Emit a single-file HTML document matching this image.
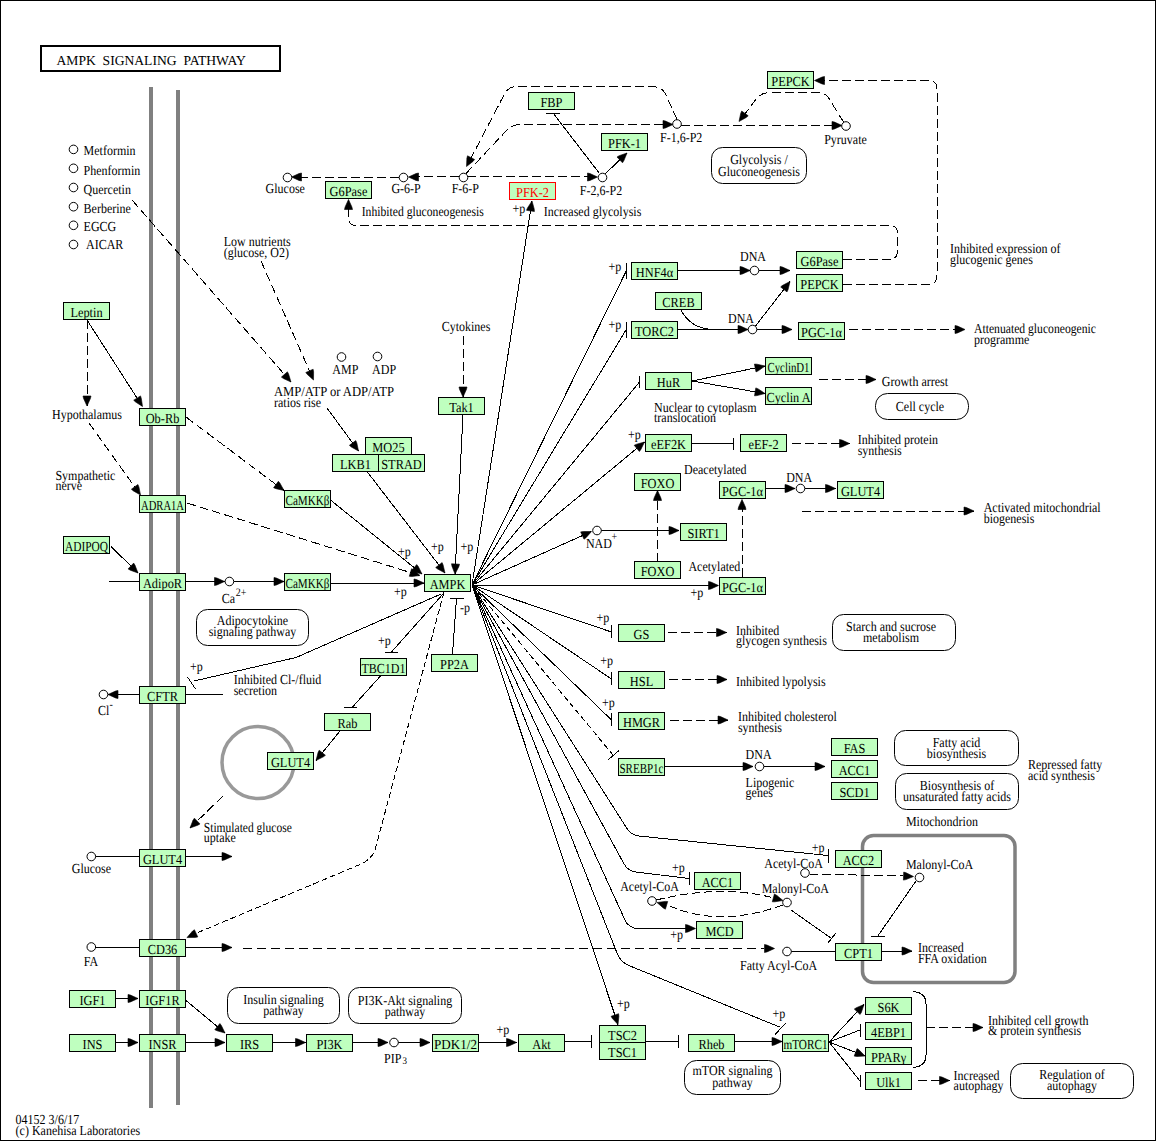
<!DOCTYPE html>
<html><head><meta charset="utf-8"><style>
html,body{margin:0;padding:0;background:#fff;width:1156px;height:1141px;overflow:hidden}
svg{display:block}
text{font-family:"Liberation Serif", serif;text-rendering:geometricPrecision}
</style></head><body>
<svg width="1156" height="1141" viewBox="0 0 1156 1141">
<rect x="0.5" y="0.5" width="1155" height="1140" fill="#fff" stroke="#000" stroke-width="1"/>
<line x1="151" y1="87" x2="151" y2="1108" stroke="#808080" stroke-width="4"/>
<line x1="178" y1="90" x2="178" y2="1105" stroke="#808080" stroke-width="4"/>
<rect x="862.5" y="835.5" width="152.5" height="147" rx="11" ry="11" fill="none" stroke="#808080" stroke-width="3.5"/>
<circle cx="258" cy="762.5" r="36" fill="none" stroke="#999999" stroke-width="3.5"/>
<path d="M399,177.5 L300,177.5" fill="none" stroke="#000" stroke-width="1" shape-rendering="crispEdges" stroke-dasharray="9,4"/>
<path d="M291.5,177.0 L299.0,173.6 L301.5,173.0 L301.5,181.0 L299.0,180.4 Z" fill="#000" stroke="#000" stroke-width="0.6"/>
<path d="M459,176.5 L416,176.5" fill="none" stroke="#000" stroke-width="1" shape-rendering="crispEdges" stroke-dasharray="9,4"/>
<path d="M408.5,177.0 L416.0,173.6 L418.5,173.0 L418.5,181.0 L416.0,180.4 Z" fill="#000" stroke="#000" stroke-width="0.6"/>
<path d="M467,176.5 L588,176.5" fill="none" stroke="#000" stroke-width="1" shape-rendering="crispEdges" stroke-dasharray="9,4"/>
<path d="M597.5,177.0 L590.0,180.4 L587.5,181.0 L587.5,173.0 L590.0,173.6 Z" fill="#000" stroke="#000" stroke-width="0.6"/>
<path d="M605,174 L627,153" fill="none" stroke="#000" stroke-width="1" shape-rendering="crispEdges"/>
<path d="M627.0,153.0 L623.9,160.6 L622.5,162.8 L617.0,157.0 L619.2,155.7 Z" fill="#000" stroke="#000" stroke-width="0.6"/>
<path d="M553,113 L599.5,173.5" fill="none" stroke="#000" stroke-width="1" shape-rendering="crispEdges"/>
<path d="M546,113.5 L560,113.5" stroke="#000" stroke-width="1" shape-rendering="crispEdges"/>
<path d="M466,173.5 L508,129 Q512,124.5 521,124.5 L665,124.5" fill="none" stroke="#000" stroke-width="1" shape-rendering="crispEdges" stroke-dasharray="9,4"/>
<path d="M673.0,124.5 L665.5,127.9 L663.0,128.5 L663.0,120.5 L665.5,121.1 Z" fill="#000" stroke="#000" stroke-width="0.6"/>
<path d="M677,119.5 L665,93 Q661,86.5 652,86.5 L517,86.5 Q509,86.5 505,93 L470,160" fill="none" stroke="#000" stroke-width="1" shape-rendering="crispEdges" stroke-dasharray="9,4"/>
<path d="M466.5,166.5 L466.9,158.3 L467.5,155.8 L474.6,159.5 L473.0,161.4 Z" fill="#000" stroke="#000" stroke-width="0.6"/>
<path d="M681,125.5 L832,125.5" fill="none" stroke="#000" stroke-width="1" shape-rendering="crispEdges" stroke-dasharray="9,4"/>
<path d="M842.0,125.5 L834.5,128.9 L832.0,129.5 L832.0,121.5 L834.5,122.1 Z" fill="#000" stroke="#000" stroke-width="0.6"/>
<path d="M843.5,122 L828,97 Q824,92.5 816,92.5 L770,92.5 Q762,92.5 757,98 L745,114" fill="none" stroke="#000" stroke-width="1" shape-rendering="crispEdges" stroke-dasharray="9,4"/>
<path d="M739.0,121.5 L740.7,113.4 L741.7,111.1 L748.2,115.8 L746.2,117.5 Z" fill="#000" stroke="#000" stroke-width="0.6"/>
<path d="M843,259.5 L889,259.5 Q897.5,259.5 897.5,251 L897.5,233 Q897.5,225.5 889,225.5 L356,225.5 Q348.5,225.5 348.5,217 L348.5,208" fill="none" stroke="#000" stroke-width="1" shape-rendering="crispEdges" stroke-dasharray="9,4"/>
<path d="M348.5,199.5 L351.9,207.0 L352.5,209.5 L344.5,209.5 L345.1,207.0 Z" fill="#000" stroke="#000" stroke-width="0.6"/>
<path d="M843,284.5 L928,284.5 Q937,284.5 937,275 L937,89 Q937,80.5 928,80.5 L824,80.5" fill="none" stroke="#000" stroke-width="1" shape-rendering="crispEdges" stroke-dasharray="9,4"/>
<path d="M814.5,80.5 L822.0,77.1 L824.5,76.5 L824.5,84.5 L822.0,83.9 Z" fill="#000" stroke="#000" stroke-width="0.6"/>
<path d="M261,261 L313.5,380" fill="none" stroke="#000" stroke-width="1" shape-rendering="crispEdges" stroke-dasharray="9,4"/>
<path d="M313.5,380.0 L307.4,374.5 L305.8,372.5 L313.1,369.2 L313.6,371.8 Z" fill="#000" stroke="#000" stroke-width="0.6"/>
<path d="M132,200 L291,382" fill="none" stroke="#000" stroke-width="1" shape-rendering="crispEdges" stroke-dasharray="9,4"/>
<path d="M291.0,382.0 L283.5,378.6 L281.4,377.1 L287.4,371.8 L288.6,374.1 Z" fill="#000" stroke="#000" stroke-width="0.6"/>
<path d="M327,408 L358.5,451" fill="none" stroke="#000" stroke-width="1" shape-rendering="crispEdges"/>
<path d="M358.5,451.0 L351.3,447.0 L349.4,445.3 L355.8,440.6 L356.8,442.9 Z" fill="#000" stroke="#000" stroke-width="0.6"/>
<path d="M463,336 L463,397" fill="none" stroke="#000" stroke-width="1" shape-rendering="crispEdges" stroke-dasharray="9,4"/>
<path d="M463.0,397.0 L459.6,389.5 L459.0,387.0 L467.0,387.0 L466.4,389.5 Z" fill="#000" stroke="#000" stroke-width="0.6"/>
<path d="M463,414.5 L455,574" fill="none" stroke="#000" stroke-width="1" shape-rendering="crispEdges"/>
<path d="M455.0,574.0 L452.0,566.3 L451.5,563.8 L459.5,564.2 L458.8,566.7 Z" fill="#000" stroke="#000" stroke-width="0.6"/>
<path d="M367,471.5 L445,573" fill="none" stroke="#000" stroke-width="1" shape-rendering="crispEdges"/>
<path d="M445.0,573.0 L437.7,569.1 L435.7,567.5 L442.1,562.6 L443.1,565.0 Z" fill="#000" stroke="#000" stroke-width="0.6"/>
<path d="M87,320 L87,406" fill="none" stroke="#000" stroke-width="1" shape-rendering="crispEdges" stroke-dasharray="9,4"/>
<path d="M87.0,406.0 L83.6,398.5 L83.0,396.0 L91.0,396.0 L90.4,398.5 Z" fill="#000" stroke="#000" stroke-width="0.6"/>
<path d="M87,320 L142.5,406.5" fill="none" stroke="#000" stroke-width="1" shape-rendering="crispEdges"/>
<path d="M142.5,406.5 L135.6,402.0 L133.7,400.2 L140.5,395.9 L141.3,398.4 Z" fill="#000" stroke="#000" stroke-width="0.6"/>
<path d="M89,423 L140.5,495" fill="none" stroke="#000" stroke-width="1" shape-rendering="crispEdges" stroke-dasharray="9,4"/>
<path d="M140.5,495.0 L133.4,490.9 L131.4,489.2 L137.9,484.5 L138.9,486.9 Z" fill="#000" stroke="#000" stroke-width="0.6"/>
<path d="M186,417 L284,490.5" fill="none" stroke="#000" stroke-width="1" shape-rendering="crispEdges" stroke-dasharray="9,4"/>
<path d="M284.0,490.5 L276.0,488.7 L273.6,487.7 L278.4,481.3 L280.0,483.3 Z" fill="#000" stroke="#000" stroke-width="0.6"/>
<path d="M187,503 L420,575.5" fill="none" stroke="#000" stroke-width="1" shape-rendering="crispEdges" stroke-dasharray="9,4"/>
<path d="M420.0,575.5 L411.8,576.5 L409.3,576.3 L411.6,568.7 L413.8,570.0 Z" fill="#000" stroke="#000" stroke-width="0.6"/>
<path d="M330.5,500 L422,574" fill="none" stroke="#000" stroke-width="1" shape-rendering="crispEdges"/>
<path d="M422.0,574.0 L414.0,571.9 L411.7,570.8 L416.7,564.6 L418.3,566.6 Z" fill="#000" stroke="#000" stroke-width="0.6"/>
<path d="M111,546.5 L138,573" fill="none" stroke="#000" stroke-width="1" shape-rendering="crispEdges"/>
<path d="M138.0,573.0 L130.3,570.2 L128.1,568.9 L133.7,563.1 L135.0,565.3 Z" fill="#000" stroke="#000" stroke-width="0.6"/>
<path d="M108.5,581.5 L139,581.5" fill="none" stroke="#000" stroke-width="1" shape-rendering="crispEdges"/>
<path d="M186,581.5 L224.5,581.5" fill="none" stroke="#000" stroke-width="1" shape-rendering="crispEdges"/>
<path d="M224.5,581.5 L217.0,584.9 L214.5,585.5 L214.5,577.5 L217.0,578.1 Z" fill="#000" stroke="#000" stroke-width="0.6"/>
<path d="M233.5,581.5 L284,581.5" fill="none" stroke="#000" stroke-width="1" shape-rendering="crispEdges"/>
<path d="M284.0,581.5 L276.5,584.9 L274.0,585.5 L274.0,577.5 L276.5,578.1 Z" fill="#000" stroke="#000" stroke-width="0.6"/>
<path d="M330.5,583 L424,583" fill="none" stroke="#000" stroke-width="1" shape-rendering="crispEdges"/>
<path d="M424.0,583.0 L416.5,586.4 L414.0,587.0 L414.0,579.0 L416.5,579.6 Z" fill="#000" stroke="#000" stroke-width="0.6"/>
<path d="M472,585 L532,201" fill="none" stroke="#000" stroke-width="1" shape-rendering="crispEdges"/>
<path d="M532.0,201.0 L534.2,208.9 L534.4,211.5 L526.5,210.3 L527.5,207.9 Z" fill="#000" stroke="#000" stroke-width="0.6"/>
<path d="M472,585 L626,271.5" fill="none" stroke="#000" stroke-width="1" shape-rendering="crispEdges"/>
<path d="M626,263 L626,279" stroke="#000" stroke-width="1" shape-rendering="crispEdges"/>
<path d="M472,585 L626,330" fill="none" stroke="#000" stroke-width="1" shape-rendering="crispEdges"/>
<path d="M626,322 L626,338" stroke="#000" stroke-width="1" shape-rendering="crispEdges"/>
<path d="M472,585 L639.5,382" fill="none" stroke="#000" stroke-width="1" shape-rendering="crispEdges"/>
<path d="M639.5,376 L639.5,388" stroke="#000" stroke-width="1" shape-rendering="crispEdges"/>
<path d="M472,585 L644.5,442" fill="none" stroke="#000" stroke-width="1" shape-rendering="crispEdges"/>
<path d="M644.5,442.0 L640.9,449.4 L639.4,451.5 L634.2,445.3 L636.6,444.2 Z" fill="#000" stroke="#000" stroke-width="0.6"/>
<path d="M472,585 L591.5,531.5" fill="none" stroke="#000" stroke-width="1" shape-rendering="crispEdges"/>
<path d="M591.5,531.5 L586.0,537.7 L584.0,539.2 L580.7,531.9 L583.3,531.5 Z" fill="#000" stroke="#000" stroke-width="0.6"/>
<path d="M601,530.5 L679,530.5" fill="none" stroke="#000" stroke-width="1" shape-rendering="crispEdges"/>
<path d="M679.0,530.5 L671.5,533.9 L669.0,534.5 L669.0,526.5 L671.5,527.1 Z" fill="#000" stroke="#000" stroke-width="0.6"/>
<path d="M472,585 L718.5,585.5" fill="none" stroke="#000" stroke-width="1" shape-rendering="crispEdges"/>
<path d="M718.5,585.5 L711.0,588.9 L708.5,589.5 L708.5,581.5 L711.0,582.1 Z" fill="#000" stroke="#000" stroke-width="0.6"/>
<path d="M472,585 L611.5,632" fill="none" stroke="#000" stroke-width="1" shape-rendering="crispEdges"/>
<path d="M611.5,625 L611.5,638" stroke="#000" stroke-width="1" shape-rendering="crispEdges"/>
<path d="M472,585 L611.5,679" fill="none" stroke="#000" stroke-width="1" shape-rendering="crispEdges"/>
<path d="M611.5,672 L611.5,685" stroke="#000" stroke-width="1" shape-rendering="crispEdges"/>
<path d="M472,585 L611.5,720" fill="none" stroke="#000" stroke-width="1" shape-rendering="crispEdges"/>
<path d="M611.5,713 L611.5,726" stroke="#000" stroke-width="1" shape-rendering="crispEdges"/>
<path d="M668,632.5 L726.5,632.5" fill="none" stroke="#000" stroke-width="1" shape-rendering="crispEdges" stroke-dasharray="9,4"/>
<path d="M726.5,632.5 L719.0,635.9 L716.5,636.5 L716.5,628.5 L719.0,629.1 Z" fill="#000" stroke="#000" stroke-width="0.6"/>
<path d="M669,679.5 L727,679.5" fill="none" stroke="#000" stroke-width="1" shape-rendering="crispEdges" stroke-dasharray="9,4"/>
<path d="M727.0,679.5 L719.5,682.9 L717.0,683.5 L717.0,675.5 L719.5,676.1 Z" fill="#000" stroke="#000" stroke-width="0.6"/>
<path d="M670,720 L728,720" fill="none" stroke="#000" stroke-width="1" shape-rendering="crispEdges" stroke-dasharray="9,4"/>
<path d="M728.0,720.0 L720.5,723.4 L718.0,724.0 L718.0,716.0 L720.5,716.6 Z" fill="#000" stroke="#000" stroke-width="0.6"/>
<path d="M472,585 L613,755" fill="none" stroke="#000" stroke-width="1" shape-rendering="crispEdges" stroke-dasharray="6,3"/>
<path d="M608.5,759.5 L619,750.5" stroke="#000" stroke-width="1" shape-rendering="crispEdges"/>
<path d="M665,766.5 L753,766.5" fill="none" stroke="#000" stroke-width="1" shape-rendering="crispEdges"/>
<path d="M753.0,766.5 L745.5,769.9 L743.0,770.5 L743.0,762.5 L745.5,763.1 Z" fill="#000" stroke="#000" stroke-width="0.6"/>
<path d="M763.5,766.5 L825,766.5" fill="none" stroke="#000" stroke-width="1" shape-rendering="crispEdges"/>
<path d="M825.0,766.5 L817.5,769.9 L815.0,770.5 L815.0,762.5 L817.5,763.1 Z" fill="#000" stroke="#000" stroke-width="0.6"/>
<path d="M472,585 L626,827 Q630,834.5 639,836 L828,855.5" fill="none" stroke="#000" stroke-width="1" shape-rendering="crispEdges"/>
<path d="M828,849 L828,863" stroke="#000" stroke-width="1" shape-rendering="crispEdges"/>
<path d="M809,874 L903,876" fill="none" stroke="#000" stroke-width="1" shape-rendering="crispEdges" stroke-dasharray="9,4"/>
<path d="M913.5,876.5 L905.9,879.6 L903.4,880.1 L903.7,872.1 L906.1,872.8 Z" fill="#000" stroke="#000" stroke-width="0.6"/>
<path d="M472,585 L623.5,863 Q627.5,871 636,872 L689,878.5" fill="none" stroke="#000" stroke-width="1" shape-rendering="crispEdges"/>
<path d="M689.5,872 L689.5,885" stroke="#000" stroke-width="1" shape-rendering="crispEdges"/>
<path d="M656.5,900 Q720,884 774,898" fill="none" stroke="#000" stroke-width="1" shape-rendering="crispEdges" stroke-dasharray="8,4"/>
<path d="M783.0,900.5 L774.9,901.8 L772.3,901.8 L774.4,894.0 L776.6,895.3 Z" fill="#000" stroke="#000" stroke-width="0.6"/>
<path d="M782.5,905 Q720,928 670,906" fill="none" stroke="#000" stroke-width="1" shape-rendering="crispEdges" stroke-dasharray="8,4"/>
<path d="M657.0,902.5 L665.2,901.4 L667.7,901.5 L665.4,909.2 L663.2,907.9 Z" fill="#000" stroke="#000" stroke-width="0.6"/>
<path d="M472,585 L624.5,919 Q628.5,928.5 638,928.5 L686,928.5" fill="none" stroke="#000" stroke-width="1" shape-rendering="crispEdges"/>
<path d="M695.5,928.5 L688.0,931.9 L685.5,932.5 L685.5,924.5 L688.0,925.1 Z" fill="#000" stroke="#000" stroke-width="0.6"/>
<path d="M791,910 L831.5,938.5" fill="none" stroke="#000" stroke-width="1" shape-rendering="crispEdges"/>
<path d="M827.5,943.5 L835.5,933.5" stroke="#000" stroke-width="1" shape-rendering="crispEdges"/>
<path d="M243,948.5 L764,948.5" fill="none" stroke="#000" stroke-width="1" shape-rendering="crispEdges" stroke-dasharray="9,5"/>
<path d="M774.5,948.5 L767.0,951.9 L764.5,952.5 L764.5,944.5 L767.0,945.1 Z" fill="#000" stroke="#000" stroke-width="0.6"/>
<path d="M791,951.5 L835,951.5" fill="none" stroke="#000" stroke-width="1" shape-rendering="crispEdges"/>
<path d="M916,881 L877.5,936.5" fill="none" stroke="#000" stroke-width="1" shape-rendering="crispEdges"/>
<path d="M871,936.5 L885,936.5" stroke="#000" stroke-width="1" shape-rendering="crispEdges"/>
<path d="M882,951 L912,951" fill="none" stroke="#000" stroke-width="1" shape-rendering="crispEdges"/>
<path d="M912.0,951.0 L904.5,954.4 L902.0,955.0 L902.0,947.0 L904.5,947.6 Z" fill="#000" stroke="#000" stroke-width="0.6"/>
<path d="M472,585 L618,1024.5" fill="none" stroke="#000" stroke-width="1" shape-rendering="crispEdges"/>
<path d="M618.0,1024.5 L612.4,1018.5 L611.1,1016.3 L618.6,1013.7 L618.9,1016.3 Z" fill="#000" stroke="#000" stroke-width="0.6"/>
<path d="M472,585 L617,953 Q621,963 630,966 L779.5,1027" fill="none" stroke="#000" stroke-width="1" shape-rendering="crispEdges"/>
<path d="M775,1034.5 L785.5,1023.5" stroke="#000" stroke-width="1" shape-rendering="crispEdges"/>
<path d="M678,270.5 L750,270.5" fill="none" stroke="#000" stroke-width="1" shape-rendering="crispEdges"/>
<path d="M750.0,270.5 L742.5,273.9 L740.0,274.5 L740.0,266.5 L742.5,267.1 Z" fill="#000" stroke="#000" stroke-width="0.6"/>
<path d="M758.5,270.5 L790,270.5" fill="none" stroke="#000" stroke-width="1" shape-rendering="crispEdges"/>
<path d="M790.0,270.5 L782.5,273.9 L780.0,274.5 L780.0,266.5 L782.5,267.1 Z" fill="#000" stroke="#000" stroke-width="0.6"/>
<path d="M678,329.5 L748,329.5" fill="none" stroke="#000" stroke-width="1" shape-rendering="crispEdges"/>
<path d="M748.0,329.5 L740.5,332.9 L738.0,333.5 L738.0,325.5 L740.5,326.1 Z" fill="#000" stroke="#000" stroke-width="0.6"/>
<path d="M681,310 Q690,328 712,329.5" fill="none" stroke="#000" stroke-width="1" shape-rendering="crispEdges"/>
<path d="M756.5,329.5 L792,329.5" fill="none" stroke="#000" stroke-width="1" shape-rendering="crispEdges"/>
<path d="M792.0,329.5 L784.5,332.9 L782.0,333.5 L782.0,325.5 L784.5,326.1 Z" fill="#000" stroke="#000" stroke-width="0.6"/>
<path d="M755.5,326 L790,281.5" fill="none" stroke="#000" stroke-width="1" shape-rendering="crispEdges"/>
<path d="M790.0,281.5 L788.1,289.5 L787.0,291.9 L780.7,287.0 L782.7,285.3 Z" fill="#000" stroke="#000" stroke-width="0.6"/>
<path d="M849,329.5 L965,329.5" fill="none" stroke="#000" stroke-width="1" shape-rendering="crispEdges" stroke-dasharray="9,4"/>
<path d="M965.0,329.5 L957.5,332.9 L955.0,333.5 L955.0,325.5 L957.5,326.1 Z" fill="#000" stroke="#000" stroke-width="0.6"/>
<path d="M692,381 L765,366" fill="none" stroke="#000" stroke-width="1" shape-rendering="crispEdges"/>
<path d="M765.0,366.0 L758.3,370.8 L756.0,371.9 L754.4,364.1 L757.0,364.2 Z" fill="#000" stroke="#000" stroke-width="0.6"/>
<path d="M692,381 L765,393.5" fill="none" stroke="#000" stroke-width="1" shape-rendering="crispEdges"/>
<path d="M765.0,393.5 L757.0,395.6 L754.5,395.8 L755.8,387.9 L758.2,388.9 Z" fill="#000" stroke="#000" stroke-width="0.6"/>
<path d="M819,379.5 L876,379.5" fill="none" stroke="#000" stroke-width="1" shape-rendering="crispEdges" stroke-dasharray="9,4"/>
<path d="M876.0,379.5 L868.5,382.9 L866.0,383.5 L866.0,375.5 L868.5,376.1 Z" fill="#000" stroke="#000" stroke-width="0.6"/>
<path d="M692,443.5 L733.5,443.5" fill="none" stroke="#000" stroke-width="1" shape-rendering="crispEdges"/>
<path d="M733.5,437.5 L733.5,449.5" stroke="#000" stroke-width="1" shape-rendering="crispEdges"/>
<path d="M792,443.5 L849.5,443.5" fill="none" stroke="#000" stroke-width="1" shape-rendering="crispEdges" stroke-dasharray="9,4"/>
<path d="M849.5,443.5 L842.0,446.9 L839.5,447.5 L839.5,439.5 L842.0,440.1 Z" fill="#000" stroke="#000" stroke-width="0.6"/>
<path d="M657.5,562 L657.5,490.5" fill="none" stroke="#000" stroke-width="1" shape-rendering="crispEdges" stroke-dasharray="9,4"/>
<path d="M657.5,490.5 L660.9,498.0 L661.5,500.5 L653.5,500.5 L654.1,498.0 Z" fill="#000" stroke="#000" stroke-width="0.6"/>
<path d="M742,577 L742,499.5" fill="none" stroke="#000" stroke-width="1" shape-rendering="crispEdges" stroke-dasharray="9,4"/>
<path d="M742.0,499.5 L745.4,507.0 L746.0,509.5 L738.0,509.5 L738.6,507.0 Z" fill="#000" stroke="#000" stroke-width="0.6"/>
<path d="M765.5,488.5 L795,488.5" fill="none" stroke="#000" stroke-width="1" shape-rendering="crispEdges"/>
<path d="M795.0,488.5 L787.5,491.9 L785.0,492.5 L785.0,484.5 L787.5,485.1 Z" fill="#000" stroke="#000" stroke-width="0.6"/>
<path d="M804.5,488.5 L835.5,488.5" fill="none" stroke="#000" stroke-width="1" shape-rendering="crispEdges"/>
<path d="M835.5,488.5 L828.0,491.9 L825.5,492.5 L825.5,484.5 L828.0,485.1 Z" fill="#000" stroke="#000" stroke-width="0.6"/>
<path d="M802,511 L974,511" fill="none" stroke="#000" stroke-width="1" shape-rendering="crispEdges" stroke-dasharray="9,4"/>
<path d="M974.0,511.0 L966.5,514.4 L964.0,515.0 L964.0,507.0 L966.5,507.6 Z" fill="#000" stroke="#000" stroke-width="0.6"/>
<path d="M441,594 L296,657.5 L194,681" fill="none" stroke="#000" stroke-width="1" shape-rendering="crispEdges"/>
<path d="M187.5,677 L195.5,689" stroke="#000" stroke-width="1" shape-rendering="crispEdges"/>
<path d="M186,694.5 L222.5,694.5" fill="none" stroke="#000" stroke-width="1" shape-rendering="crispEdges"/>
<path d="M139,694.5 L108,694.5" fill="none" stroke="#000" stroke-width="1" shape-rendering="crispEdges"/>
<path d="M108.0,694.5 L115.5,691.1 L118.0,690.5 L118.0,698.5 L115.5,697.9 Z" fill="#000" stroke="#000" stroke-width="0.6"/>
<path d="M443,594 L391,652.5" fill="none" stroke="#000" stroke-width="1" shape-rendering="crispEdges"/>
<path d="M385,652.5 L398,652.5" stroke="#000" stroke-width="1" shape-rendering="crispEdges"/>
<path d="M380.5,676 L352.5,707" fill="none" stroke="#000" stroke-width="1" shape-rendering="crispEdges"/>
<path d="M344,707 L357,707" stroke="#000" stroke-width="1" shape-rendering="crispEdges"/>
<path d="M340,731 L316,760.5" fill="none" stroke="#000" stroke-width="1" shape-rendering="crispEdges"/>
<path d="M316.0,760.5 L318.1,752.5 L319.2,750.2 L325.4,755.3 L323.4,756.8 Z" fill="#000" stroke="#000" stroke-width="0.6"/>
<path d="M223,796 L190,828" fill="none" stroke="#000" stroke-width="1" shape-rendering="crispEdges" stroke-dasharray="9,4"/>
<path d="M190.0,828.0 L193.0,820.3 L194.4,818.2 L200.0,823.9 L197.8,825.2 Z" fill="#000" stroke="#000" stroke-width="0.6"/>
<path d="M452.5,654.5 L456.5,598" fill="none" stroke="#000" stroke-width="1" shape-rendering="crispEdges"/>
<path d="M450,598 L464,598" stroke="#000" stroke-width="1" shape-rendering="crispEdges"/>
<path d="M444,592 L375,850 Q371,860 360,864.5 L198,932.5" fill="none" stroke="#000" stroke-width="1" shape-rendering="crispEdges" stroke-dasharray="6,3"/>
<path d="M187.0,937.5 L192.4,931.3 L194.4,929.7 L197.8,936.9 L195.2,937.4 Z" fill="#000" stroke="#000" stroke-width="0.6"/>
<path d="M95.3,856.5 L139,856.5" fill="none" stroke="#000" stroke-width="1" shape-rendering="crispEdges"/>
<path d="M186,856.5 L232,856.5" fill="none" stroke="#000" stroke-width="1" shape-rendering="crispEdges"/>
<path d="M232.0,856.5 L224.5,859.9 L222.0,860.5 L222.0,852.5 L224.5,853.1 Z" fill="#000" stroke="#000" stroke-width="0.6"/>
<path d="M95.3,947 L139,947" fill="none" stroke="#000" stroke-width="1" shape-rendering="crispEdges"/>
<path d="M186,947.5 L232,947.5" fill="none" stroke="#000" stroke-width="1" shape-rendering="crispEdges"/>
<path d="M232.0,947.5 L224.5,950.9 L222.0,951.5 L222.0,943.5 L224.5,944.1 Z" fill="#000" stroke="#000" stroke-width="0.6"/>
<path d="M115,998.5 L138,998.5" fill="none" stroke="#000" stroke-width="1" shape-rendering="crispEdges"/>
<path d="M138.0,998.5 L130.5,1001.9 L128.0,1002.5 L128.0,994.5 L130.5,995.1 Z" fill="#000" stroke="#000" stroke-width="0.6"/>
<path d="M115,1042.5 L138,1042.5" fill="none" stroke="#000" stroke-width="1" shape-rendering="crispEdges"/>
<path d="M138.0,1042.5 L130.5,1045.9 L128.0,1046.5 L128.0,1038.5 L130.5,1039.1 Z" fill="#000" stroke="#000" stroke-width="0.6"/>
<path d="M186,1042.5 L225,1042.5" fill="none" stroke="#000" stroke-width="1" shape-rendering="crispEdges"/>
<path d="M225.0,1042.5 L217.5,1045.9 L215.0,1046.5 L215.0,1038.5 L217.5,1039.1 Z" fill="#000" stroke="#000" stroke-width="0.6"/>
<path d="M186,1000.5 L225,1033" fill="none" stroke="#000" stroke-width="1" shape-rendering="crispEdges"/>
<path d="M225.0,1033.0 L217.1,1030.8 L214.8,1029.7 L219.9,1023.5 L221.4,1025.6 Z" fill="#000" stroke="#000" stroke-width="0.6"/>
<path d="M273,1042.5 L305.5,1042.5" fill="none" stroke="#000" stroke-width="1" shape-rendering="crispEdges"/>
<path d="M305.5,1042.5 L298.0,1045.9 L295.5,1046.5 L295.5,1038.5 L298.0,1039.1 Z" fill="#000" stroke="#000" stroke-width="0.6"/>
<path d="M352.5,1042.5 L388,1042.5" fill="none" stroke="#000" stroke-width="1" shape-rendering="crispEdges"/>
<path d="M388.0,1042.5 L380.5,1045.9 L378.0,1046.5 L378.0,1038.5 L380.5,1039.1 Z" fill="#000" stroke="#000" stroke-width="0.6"/>
<path d="M398,1042.5 L430,1042.5" fill="none" stroke="#000" stroke-width="1" shape-rendering="crispEdges"/>
<path d="M430.0,1042.5 L422.5,1045.9 L420.0,1046.5 L420.0,1038.5 L422.5,1039.1 Z" fill="#000" stroke="#000" stroke-width="0.6"/>
<path d="M478.5,1042.5 L516.5,1042.5" fill="none" stroke="#000" stroke-width="1" shape-rendering="crispEdges"/>
<path d="M516.5,1042.5 L509.0,1045.9 L506.5,1046.5 L506.5,1038.5 L509.0,1039.1 Z" fill="#000" stroke="#000" stroke-width="0.6"/>
<path d="M564.5,1041.5 L591.5,1041.5" fill="none" stroke="#000" stroke-width="1" shape-rendering="crispEdges"/>
<path d="M591.5,1035 L591.5,1048" stroke="#000" stroke-width="1" shape-rendering="crispEdges"/>
<path d="M646,1041.5 L678,1041.5" fill="none" stroke="#000" stroke-width="1" shape-rendering="crispEdges"/>
<path d="M678,1035 L678,1048" stroke="#000" stroke-width="1" shape-rendering="crispEdges"/>
<path d="M734.5,1041.5 L782,1041.5" fill="none" stroke="#000" stroke-width="1" shape-rendering="crispEdges"/>
<path d="M782.0,1041.5 L774.5,1044.9 L772.0,1045.5 L772.0,1037.5 L774.5,1038.1 Z" fill="#000" stroke="#000" stroke-width="0.6"/>
<path d="M829,1042 L864,1004.5" fill="none" stroke="#000" stroke-width="1" shape-rendering="crispEdges"/>
<path d="M864.0,1004.5 L861.4,1012.3 L860.1,1014.5 L854.3,1009.1 L856.4,1007.7 Z" fill="#000" stroke="#000" stroke-width="0.6"/>
<path d="M829,1042 L860,1030" fill="none" stroke="#000" stroke-width="1" shape-rendering="crispEdges"/>
<path d="M860,1023.5 L860,1036.5" stroke="#000" stroke-width="1" shape-rendering="crispEdges"/>
<path d="M829,1042 L865,1056" fill="none" stroke="#000" stroke-width="1" shape-rendering="crispEdges"/>
<path d="M865.0,1056.0 L856.8,1056.5 L854.2,1056.1 L857.1,1048.6 L859.2,1050.1 Z" fill="#000" stroke="#000" stroke-width="0.6"/>
<path d="M829,1042 L860,1081" fill="none" stroke="#000" stroke-width="1" shape-rendering="crispEdges"/>
<path d="M860,1074.5 L860,1087" stroke="#000" stroke-width="1" shape-rendering="crispEdges"/>
<path d="M913,991.5 Q926,992.5 926,1004 L926,1055 Q926,1066.5 913,1067.5" fill="none" stroke="#000" stroke-width="1" shape-rendering="crispEdges"/>
<path d="M926,1027.5 L983,1027.5" fill="none" stroke="#000" stroke-width="1" shape-rendering="crispEdges" stroke-dasharray="9,4"/>
<path d="M983.0,1027.5 L975.5,1030.9 L973.0,1031.5 L973.0,1023.5 L975.5,1024.1 Z" fill="#000" stroke="#000" stroke-width="0.6"/>
<path d="M918,1080.5 L949.5,1080.5" fill="none" stroke="#000" stroke-width="1" shape-rendering="crispEdges" stroke-dasharray="9,4"/>
<path d="M949.5,1080.5 L942.0,1083.9 L939.5,1084.5 L939.5,1076.5 L942.0,1077.1 Z" fill="#000" stroke="#000" stroke-width="0.6"/>
<rect x="41" y="46" width="239" height="25" fill="none" stroke="#000" stroke-width="2"/>
<circle cx="73.5" cy="149.4" r="4.3" fill="#fff" stroke="#000" stroke-width="1"/>
<circle cx="73.5" cy="168.3" r="4.3" fill="#fff" stroke="#000" stroke-width="1"/>
<circle cx="73.5" cy="187.5" r="4.3" fill="#fff" stroke="#000" stroke-width="1"/>
<circle cx="73.5" cy="206.7" r="4.3" fill="#fff" stroke="#000" stroke-width="1"/>
<circle cx="73.5" cy="225.3" r="4.3" fill="#fff" stroke="#000" stroke-width="1"/>
<circle cx="73.5" cy="244.5" r="4.3" fill="#fff" stroke="#000" stroke-width="1"/>
<circle cx="287.5" cy="177.5" r="4.3" fill="#fff" stroke="#000" stroke-width="1"/>
<circle cx="403.5" cy="177.5" r="4.3" fill="#fff" stroke="#000" stroke-width="1"/>
<circle cx="463.5" cy="177.5" r="4.3" fill="#fff" stroke="#000" stroke-width="1"/>
<circle cx="602.5" cy="177.5" r="4.3" fill="#fff" stroke="#000" stroke-width="1"/>
<rect x="325.5" y="181.5" width="46" height="17" fill="#bfffbf" stroke="#000" stroke-width="1"/>
<rect x="528.5" y="92.5" width="46" height="17" fill="#bfffbf" stroke="#000" stroke-width="1"/>
<rect x="601.5" y="133.5" width="46" height="17" fill="#bfffbf" stroke="#000" stroke-width="1"/>
<rect x="509.5" y="182.5" width="46" height="17" fill="#bfffbf" stroke="#ff0000" stroke-width="1"/>
<circle cx="677" cy="124" r="4.3" fill="#fff" stroke="#000" stroke-width="1"/>
<circle cx="846" cy="126" r="4.3" fill="#fff" stroke="#000" stroke-width="1"/>
<rect x="767.5" y="71.5" width="46" height="17" fill="#bfffbf" stroke="#000" stroke-width="1"/>
<rect x="711.5" y="147.5" width="95" height="36" rx="11" ry="11" fill="#fff" stroke="#000" stroke-width="1"/>
<circle cx="341.5" cy="357" r="4.3" fill="#fff" stroke="#000" stroke-width="1"/>
<circle cx="377.5" cy="356.5" r="4.3" fill="#fff" stroke="#000" stroke-width="1"/>
<rect x="365.5" y="437.5" width="46" height="17" fill="#bfffbf" stroke="#000" stroke-width="1"/>
<rect x="332.5" y="454.5" width="46" height="17" fill="#bfffbf" stroke="#000" stroke-width="1"/>
<rect x="378.5" y="454.5" width="46" height="17" fill="#bfffbf" stroke="#000" stroke-width="1"/>
<rect x="438.5" y="397.5" width="46" height="17" fill="#bfffbf" stroke="#000" stroke-width="1"/>
<rect x="63.5" y="302.5" width="46" height="17" fill="#bfffbf" stroke="#000" stroke-width="1"/>
<rect x="139.5" y="408.5" width="46" height="17" fill="#bfffbf" stroke="#000" stroke-width="1"/>
<rect x="139.5" y="495.5" width="46" height="17" fill="#bfffbf" stroke="#000" stroke-width="1"/>
<rect x="284.5" y="490.5" width="46" height="17" fill="#bfffbf" stroke="#000" stroke-width="1"/>
<rect x="63.5" y="536.5" width="46" height="17" fill="#bfffbf" stroke="#000" stroke-width="1"/>
<rect x="139.5" y="573.5" width="46" height="17" fill="#bfffbf" stroke="#000" stroke-width="1"/>
<circle cx="229.4" cy="581.5" r="4.3" fill="#fff" stroke="#000" stroke-width="1"/>
<rect x="284.5" y="573.5" width="46" height="17" fill="#bfffbf" stroke="#000" stroke-width="1"/>
<rect x="424.5" y="574.5" width="46" height="17" fill="#bfffbf" stroke="#000" stroke-width="1"/>
<rect x="196.5" y="609.5" width="112" height="36" rx="11" ry="11" fill="#fff" stroke="#000" stroke-width="1"/>
<circle cx="597" cy="530.5" r="4.3" fill="#fff" stroke="#000" stroke-width="1"/>
<rect x="680.5" y="523.5" width="46" height="17" fill="#bfffbf" stroke="#000" stroke-width="1"/>
<rect x="618.5" y="624.5" width="46" height="17" fill="#bfffbf" stroke="#000" stroke-width="1"/>
<rect x="618.5" y="671.5" width="46" height="17" fill="#bfffbf" stroke="#000" stroke-width="1"/>
<rect x="618.5" y="712.5" width="46" height="17" fill="#bfffbf" stroke="#000" stroke-width="1"/>
<rect x="832.5" y="614.5" width="123" height="36" rx="11" ry="11" fill="#fff" stroke="#000" stroke-width="1"/>
<rect x="618.5" y="758.5" width="46" height="17" fill="#bfffbf" stroke="#000" stroke-width="1"/>
<circle cx="759.5" cy="766.5" r="4.3" fill="#fff" stroke="#000" stroke-width="1"/>
<rect x="831.5" y="738.5" width="46" height="17" fill="#bfffbf" stroke="#000" stroke-width="1"/>
<rect x="831.5" y="760.5" width="46" height="17" fill="#bfffbf" stroke="#000" stroke-width="1"/>
<rect x="831.5" y="782.5" width="46" height="17" fill="#bfffbf" stroke="#000" stroke-width="1"/>
<rect x="894.5" y="730.5" width="124" height="35" rx="11" ry="11" fill="#fff" stroke="#000" stroke-width="1"/>
<rect x="895.5" y="773.5" width="123" height="36" rx="11" ry="11" fill="#fff" stroke="#000" stroke-width="1"/>
<circle cx="805" cy="873" r="4.3" fill="#fff" stroke="#000" stroke-width="1"/>
<rect x="835.5" y="850.5" width="46" height="17" fill="#bfffbf" stroke="#000" stroke-width="1"/>
<rect x="694.5" y="872.5" width="46" height="17" fill="#bfffbf" stroke="#000" stroke-width="1"/>
<circle cx="652" cy="901" r="4.3" fill="#fff" stroke="#000" stroke-width="1"/>
<circle cx="787" cy="902.5" r="4.3" fill="#fff" stroke="#000" stroke-width="1"/>
<rect x="696.5" y="921.5" width="46" height="17" fill="#bfffbf" stroke="#000" stroke-width="1"/>
<circle cx="787" cy="951.5" r="4.3" fill="#fff" stroke="#000" stroke-width="1"/>
<rect x="835.5" y="943.5" width="46" height="17" fill="#bfffbf" stroke="#000" stroke-width="1"/>
<circle cx="919.5" cy="877.5" r="4.3" fill="#fff" stroke="#000" stroke-width="1"/>
<rect x="631.5" y="262.5" width="46" height="17" fill="#bfffbf" stroke="#000" stroke-width="1"/>
<circle cx="754.5" cy="270.5" r="4.3" fill="#fff" stroke="#000" stroke-width="1"/>
<rect x="796.5" y="251.5" width="46" height="17" fill="#bfffbf" stroke="#000" stroke-width="1"/>
<rect x="796.5" y="274.5" width="46" height="17" fill="#bfffbf" stroke="#000" stroke-width="1"/>
<rect x="655.5" y="292.5" width="46" height="17" fill="#bfffbf" stroke="#000" stroke-width="1"/>
<rect x="631.5" y="321.5" width="46" height="17" fill="#bfffbf" stroke="#000" stroke-width="1"/>
<circle cx="752.5" cy="329.5" r="4.3" fill="#fff" stroke="#000" stroke-width="1"/>
<rect x="798.5" y="322.5" width="46" height="17" fill="#bfffbf" stroke="#000" stroke-width="1"/>
<rect x="645.5" y="372.5" width="46" height="17" fill="#bfffbf" stroke="#000" stroke-width="1"/>
<rect x="765.5" y="357.5" width="46" height="17" fill="#bfffbf" stroke="#000" stroke-width="1"/>
<rect x="765.5" y="387.5" width="46" height="17" fill="#bfffbf" stroke="#000" stroke-width="1"/>
<rect x="875.5" y="393.5" width="93" height="26" rx="12" ry="12" fill="#fff" stroke="#000" stroke-width="1"/>
<rect x="645.5" y="434.5" width="46" height="17" fill="#bfffbf" stroke="#000" stroke-width="1"/>
<rect x="740.5" y="434.5" width="46" height="17" fill="#bfffbf" stroke="#000" stroke-width="1"/>
<rect x="634.5" y="473.5" width="46" height="17" fill="#bfffbf" stroke="#000" stroke-width="1"/>
<rect x="634.5" y="561.5" width="46" height="17" fill="#bfffbf" stroke="#000" stroke-width="1"/>
<rect x="719.5" y="481.5" width="46" height="17" fill="#bfffbf" stroke="#000" stroke-width="1"/>
<rect x="719.5" y="577.5" width="46" height="17" fill="#bfffbf" stroke="#000" stroke-width="1"/>
<circle cx="800.5" cy="488.5" r="4.3" fill="#fff" stroke="#000" stroke-width="1"/>
<rect x="837.5" y="481.5" width="46" height="17" fill="#bfffbf" stroke="#000" stroke-width="1"/>
<rect x="139.5" y="686.5" width="46" height="17" fill="#bfffbf" stroke="#000" stroke-width="1"/>
<circle cx="103.5" cy="694.5" r="4.3" fill="#fff" stroke="#000" stroke-width="1"/>
<rect x="360.5" y="658.5" width="46" height="17" fill="#bfffbf" stroke="#000" stroke-width="1"/>
<rect x="324.5" y="713.5" width="46" height="17" fill="#bfffbf" stroke="#000" stroke-width="1"/>
<rect x="267.5" y="752.5" width="46" height="17" fill="#bfffbf" stroke="#000" stroke-width="1"/>
<rect x="431.5" y="654.5" width="46" height="17" fill="#bfffbf" stroke="#000" stroke-width="1"/>
<circle cx="91.3" cy="856.5" r="4.3" fill="#fff" stroke="#000" stroke-width="1"/>
<rect x="139.5" y="849.5" width="46" height="17" fill="#bfffbf" stroke="#000" stroke-width="1"/>
<circle cx="91.3" cy="947" r="4.3" fill="#fff" stroke="#000" stroke-width="1"/>
<rect x="139.5" y="939.5" width="46" height="17" fill="#bfffbf" stroke="#000" stroke-width="1"/>
<rect x="69.5" y="990.5" width="46" height="17" fill="#bfffbf" stroke="#000" stroke-width="1"/>
<rect x="139.5" y="990.5" width="46" height="17" fill="#bfffbf" stroke="#000" stroke-width="1"/>
<rect x="69.5" y="1034.5" width="46" height="17" fill="#bfffbf" stroke="#000" stroke-width="1"/>
<rect x="139.5" y="1034.5" width="46" height="17" fill="#bfffbf" stroke="#000" stroke-width="1"/>
<rect x="226.5" y="1034.5" width="46" height="17" fill="#bfffbf" stroke="#000" stroke-width="1"/>
<rect x="306.5" y="1034.5" width="46" height="17" fill="#bfffbf" stroke="#000" stroke-width="1"/>
<circle cx="394" cy="1042.5" r="4.3" fill="#fff" stroke="#000" stroke-width="1"/>
<rect x="432.5" y="1034.5" width="46" height="17" fill="#bfffbf" stroke="#000" stroke-width="1"/>
<rect x="518.5" y="1034.5" width="46" height="17" fill="#bfffbf" stroke="#000" stroke-width="1"/>
<rect x="227.5" y="987.5" width="112" height="36" rx="11" ry="11" fill="#fff" stroke="#000" stroke-width="1"/>
<rect x="348.5" y="987.5" width="113" height="36" rx="11" ry="11" fill="#fff" stroke="#000" stroke-width="1"/>
<rect x="599.5" y="1025.5" width="46" height="17" fill="#bfffbf" stroke="#000" stroke-width="1"/>
<rect x="599.5" y="1042.5" width="46" height="17" fill="#bfffbf" stroke="#000" stroke-width="1"/>
<rect x="688.5" y="1034.5" width="46" height="17" fill="#bfffbf" stroke="#000" stroke-width="1"/>
<rect x="782.5" y="1034.5" width="46" height="17" fill="#bfffbf" stroke="#000" stroke-width="1"/>
<rect x="684.5" y="1060.5" width="96" height="34" rx="12" ry="12" fill="#fff" stroke="#000" stroke-width="1"/>
<rect x="865.5" y="997.5" width="46" height="17" fill="#bfffbf" stroke="#000" stroke-width="1"/>
<rect x="865.5" y="1022.5" width="46" height="17" fill="#bfffbf" stroke="#000" stroke-width="1"/>
<rect x="865.5" y="1047.5" width="46" height="17" fill="#bfffbf" stroke="#000" stroke-width="1"/>
<rect x="865.5" y="1072.5" width="46" height="17" fill="#bfffbf" stroke="#000" stroke-width="1"/>
<rect x="1010.5" y="1063.5" width="123" height="35" rx="12" ry="12" fill="#fff" stroke="#000" stroke-width="1"/>
<text x="56.5" y="65" font-family="'Liberation Sans', sans-serif" font-size="13.6" style="white-space:pre">AMPK  SIGNALING  PATHWAY</text>
<text transform="translate(83.6,155.1) scale(0.8696,1)" x="0" y="0" font-size="13.80">Metformin</text>
<text transform="translate(83.6,174.9) scale(0.8696,1)" x="0" y="0" font-size="13.80">Phenformin</text>
<text transform="translate(83.6,193.8) scale(0.8696,1)" x="0" y="0" font-size="13.80">Quercetin</text>
<text transform="translate(83.6,213) scale(0.8696,1)" x="0" y="0" font-size="13.80">Berberine</text>
<text transform="translate(83.6,230.9) scale(0.8696,1)" x="0" y="0" font-size="13.80">EGCG</text>
<text transform="translate(86,249.3) scale(0.8696,1)" x="0" y="0" font-size="13.80">AICAR</text>
<text transform="translate(265.6,192.7) scale(0.8696,1)" x="0" y="0" font-size="13.80">Glucose</text>
<text transform="translate(391.4,192.7) scale(0.8696,1)" x="0" y="0" font-size="13.80">G-6-P</text>
<text transform="translate(451.7,192.7) scale(0.8696,1)" x="0" y="0" font-size="13.80">F-6-P</text>
<text transform="translate(579.8,194.7) scale(0.8696,1)" x="0" y="0" font-size="13.80">F-2,6-P2</text>
<text transform="translate(348.5,196) scale(0.8957,1)" x="0" y="0" font-size="13.80" text-anchor="middle" fill="#000">G6Pase</text>
<text transform="translate(551.5,107) scale(0.8957,1)" x="0" y="0" font-size="13.80" text-anchor="middle" fill="#000">FBP</text>
<text transform="translate(624.5,148) scale(0.8957,1)" x="0" y="0" font-size="13.80" text-anchor="middle" fill="#000">PFK-1</text>
<text transform="translate(532.5,197) scale(0.8957,1)" x="0" y="0" font-size="13.80" text-anchor="middle" fill="#ff0000">PFK-2</text>
<text transform="translate(660,141.8) scale(0.8696,1)" x="0" y="0" font-size="13.80">F-1,6-P2</text>
<text transform="translate(824.2,143.9) scale(0.8696,1)" x="0" y="0" font-size="13.80">Pyruvate</text>
<text transform="translate(790.5,86) scale(0.8957,1)" x="0" y="0" font-size="13.80" text-anchor="middle" fill="#000">PEPCK</text>
<text transform="translate(759.0,164.2) scale(0.8696,1)" x="0" y="0" font-size="13.80" text-anchor="middle">Glycolysis /</text>
<text transform="translate(759.0,175.7) scale(0.8696,1)" x="0" y="0" font-size="13.80" text-anchor="middle">Gluconeogenesis</text>
<text transform="translate(361.7,216.3) scale(0.8696,1)" x="0" y="0" font-size="13.80" textLength="140.30" lengthAdjust="spacingAndGlyphs">Inhibited gluconeogenesis</text>
<text transform="translate(512.5,212.5) scale(0.8696,1)" x="0" y="0" font-size="13.80">+p</text>
<text transform="translate(543.7,215.6) scale(0.8696,1)" x="0" y="0" font-size="13.80">Increased glycolysis</text>
<text transform="translate(223.7,245.8) scale(0.8696,1)" x="0" y="0" font-size="13.80">Low nutrients</text>
<text transform="translate(223.7,256.8) scale(0.8696,1)" x="0" y="0" font-size="13.80">(glucose, O2)</text>
<text transform="translate(332.3,374.2) scale(0.8696,1)" x="0" y="0" font-size="13.80">AMP</text>
<text transform="translate(372.1,374) scale(0.8696,1)" x="0" y="0" font-size="13.80">ADP</text>
<text transform="translate(274,396.2) scale(0.8696,1)" x="0" y="0" font-size="13.80" textLength="138.00" lengthAdjust="spacingAndGlyphs">AMP/ATP or ADP/ATP</text>
<text transform="translate(274,407.2) scale(0.8696,1)" x="0" y="0" font-size="13.80">ratios rise</text>
<text transform="translate(388.5,452) scale(0.8957,1)" x="0" y="0" font-size="13.80" text-anchor="middle" fill="#000">MO25</text>
<text transform="translate(355.5,469) scale(0.8957,1)" x="0" y="0" font-size="13.80" text-anchor="middle" fill="#000">LKB1</text>
<text transform="translate(401.5,469) scale(0.8957,1)" x="0" y="0" font-size="13.80" text-anchor="middle" fill="#000">STRAD</text>
<text transform="translate(441.7,330.7) scale(0.8696,1)" x="0" y="0" font-size="13.80">Cytokines</text>
<text transform="translate(461.5,412) scale(0.8957,1)" x="0" y="0" font-size="13.80" text-anchor="middle" fill="#000">Tak1</text>
<text transform="translate(86.5,317) scale(0.8957,1)" x="0" y="0" font-size="13.80" text-anchor="middle" fill="#000">Leptin</text>
<text transform="translate(52,418.5) scale(0.8696,1)" x="0" y="0" font-size="13.80">Hypothalamus</text>
<text transform="translate(162.5,423) scale(0.8957,1)" x="0" y="0" font-size="13.80" text-anchor="middle" fill="#000">Ob-Rb</text>
<text transform="translate(55.4,479.5) scale(0.8696,1)" x="0" y="0" font-size="13.80">Sympathetic</text>
<text transform="translate(55.4,489.7) scale(0.8696,1)" x="0" y="0" font-size="13.80">nerve</text>
<text transform="translate(162.5,510) scale(0.8696,1)" x="0" y="0" font-size="13.80" text-anchor="middle" fill="#000" textLength="49.45" lengthAdjust="spacingAndGlyphs">ADRA1A</text>
<text transform="translate(307.5,505) scale(0.8696,1)" x="0" y="0" font-size="13.80" text-anchor="middle" fill="#000" textLength="50.60" lengthAdjust="spacingAndGlyphs">CaMKKβ</text>
<text transform="translate(86.5,551) scale(0.8696,1)" x="0" y="0" font-size="13.80" text-anchor="middle" fill="#000" textLength="49.45" lengthAdjust="spacingAndGlyphs">ADIPOQ</text>
<text transform="translate(162.5,588) scale(0.8957,1)" x="0" y="0" font-size="13.80" text-anchor="middle" fill="#000">AdipoR</text>
<text transform="translate(221.7,603.4) scale(0.8696,1)" x="0" y="0" font-size="13.80">Ca</text>
<text transform="translate(235.7,595.7) scale(0.8696,1)" x="0" y="0" font-size="11.50">2+</text>
<text transform="translate(307.5,588) scale(0.8696,1)" x="0" y="0" font-size="13.80" text-anchor="middle" fill="#000" textLength="50.60" lengthAdjust="spacingAndGlyphs">CaMKKβ</text>
<text transform="translate(397.9,556.2) scale(0.8696,1)" x="0" y="0" font-size="13.80">+p</text>
<text transform="translate(430.9,550.6) scale(0.8696,1)" x="0" y="0" font-size="13.80">+p</text>
<text transform="translate(460.6,551.2) scale(0.8696,1)" x="0" y="0" font-size="13.80">+p</text>
<text transform="translate(394,595.6) scale(0.8696,1)" x="0" y="0" font-size="13.80">+p</text>
<text transform="translate(460,611.9) scale(0.8696,1)" x="0" y="0" font-size="13.80">-p</text>
<text transform="translate(447.5,589) scale(0.8957,1)" x="0" y="0" font-size="13.80" text-anchor="middle" fill="#000">AMPK</text>
<text transform="translate(252.5,624.7) scale(0.8696,1)" x="0" y="0" font-size="13.80" text-anchor="middle">Adipocytokine</text>
<text transform="translate(252.5,635.7) scale(0.8696,1)" x="0" y="0" font-size="13.80" text-anchor="middle">signaling pathway</text>
<text transform="translate(608.5,271) scale(0.8696,1)" x="0" y="0" font-size="13.80">+p</text>
<text transform="translate(608.5,329.4) scale(0.8696,1)" x="0" y="0" font-size="13.80">+p</text>
<text transform="translate(628,438.8) scale(0.8696,1)" x="0" y="0" font-size="13.80">+p</text>
<text transform="translate(585.9,547.5) scale(0.8696,1)" x="0" y="0" font-size="13.80">NAD</text>
<text transform="translate(611.5,540) scale(0.8696,1)" x="0" y="0" font-size="11.50">+</text>
<text transform="translate(703.5,538) scale(0.8957,1)" x="0" y="0" font-size="13.80" text-anchor="middle" fill="#000">SIRT1</text>
<text transform="translate(690.4,597) scale(0.8696,1)" x="0" y="0" font-size="13.80">+p</text>
<text transform="translate(596.4,621.8) scale(0.8696,1)" x="0" y="0" font-size="13.80">+p</text>
<text transform="translate(600.2,665) scale(0.8696,1)" x="0" y="0" font-size="13.80">+p</text>
<text transform="translate(602,707.4) scale(0.8696,1)" x="0" y="0" font-size="13.80">+p</text>
<text transform="translate(641.5,639) scale(0.8957,1)" x="0" y="0" font-size="13.80" text-anchor="middle" fill="#000">GS</text>
<text transform="translate(641.5,686) scale(0.8957,1)" x="0" y="0" font-size="13.80" text-anchor="middle" fill="#000">HSL</text>
<text transform="translate(641.5,727) scale(0.8957,1)" x="0" y="0" font-size="13.80" text-anchor="middle" fill="#000">HMGR</text>
<text transform="translate(735.9,634.5) scale(0.8696,1)" x="0" y="0" font-size="13.80">Inhibited</text>
<text transform="translate(735.9,645.4) scale(0.8696,1)" x="0" y="0" font-size="13.80">glycogen synthesis</text>
<text transform="translate(735.9,686.2) scale(0.8696,1)" x="0" y="0" font-size="13.80">Inhibited lypolysis</text>
<text transform="translate(737.9,721) scale(0.8696,1)" x="0" y="0" font-size="13.80">Inhibited cholesterol</text>
<text transform="translate(737.9,732) scale(0.8696,1)" x="0" y="0" font-size="13.80">synthesis</text>
<text transform="translate(891.0,630.7) scale(0.8696,1)" x="0" y="0" font-size="13.80" text-anchor="middle">Starch and sucrose</text>
<text transform="translate(891.0,641.6) scale(0.8696,1)" x="0" y="0" font-size="13.80" text-anchor="middle">metabolism</text>
<text transform="translate(641.5,773) scale(0.8696,1)" x="0" y="0" font-size="13.80" text-anchor="middle" fill="#000" textLength="50.60" lengthAdjust="spacingAndGlyphs">SREBP1c</text>
<text transform="translate(745.6,759) scale(0.8696,1)" x="0" y="0" font-size="13.80">DNA</text>
<text transform="translate(745.6,787) scale(0.8696,1)" x="0" y="0" font-size="13.80">Lipogenic</text>
<text transform="translate(745.6,797.2) scale(0.8696,1)" x="0" y="0" font-size="13.80">genes</text>
<text transform="translate(854.5,753) scale(0.8957,1)" x="0" y="0" font-size="13.80" text-anchor="middle" fill="#000">FAS</text>
<text transform="translate(854.5,775) scale(0.8957,1)" x="0" y="0" font-size="13.80" text-anchor="middle" fill="#000">ACC1</text>
<text transform="translate(854.5,797) scale(0.8957,1)" x="0" y="0" font-size="13.80" text-anchor="middle" fill="#000">SCD1</text>
<text transform="translate(956.5,746.8) scale(0.8696,1)" x="0" y="0" font-size="13.80" text-anchor="middle">Fatty acid</text>
<text transform="translate(956.5,757.8) scale(0.8696,1)" x="0" y="0" font-size="13.80" text-anchor="middle">biosynthesis</text>
<text transform="translate(957.0,790) scale(0.8696,1)" x="0" y="0" font-size="13.80" text-anchor="middle">Biosynthesis of</text>
<text transform="translate(957.0,801) scale(0.8696,1)" x="0" y="0" font-size="13.80" text-anchor="middle">unsaturated fatty acids</text>
<text transform="translate(1028,769.2) scale(0.8696,1)" x="0" y="0" font-size="13.80">Repressed fatty</text>
<text transform="translate(1028,780.1) scale(0.8696,1)" x="0" y="0" font-size="13.80">acid synthesis</text>
<text transform="translate(811.7,851.8) scale(0.8696,1)" x="0" y="0" font-size="13.80">+p</text>
<text transform="translate(764.3,867.5) scale(0.8696,1)" x="0" y="0" font-size="13.80">Acetyl-CoA</text>
<text transform="translate(858.5,865) scale(0.8957,1)" x="0" y="0" font-size="13.80" text-anchor="middle" fill="#000">ACC2</text>
<text transform="translate(672,871.8) scale(0.8696,1)" x="0" y="0" font-size="13.80">+p</text>
<text transform="translate(717.5,887) scale(0.8957,1)" x="0" y="0" font-size="13.80" text-anchor="middle" fill="#000">ACC1</text>
<text transform="translate(620.2,890.8) scale(0.8696,1)" x="0" y="0" font-size="13.80">Acetyl-CoA</text>
<text transform="translate(761.7,893.4) scale(0.8696,1)" x="0" y="0" font-size="13.80">Malonyl-CoA</text>
<text transform="translate(670.2,939.1) scale(0.8696,1)" x="0" y="0" font-size="13.80">+p</text>
<text transform="translate(719.5,936) scale(0.8957,1)" x="0" y="0" font-size="13.80" text-anchor="middle" fill="#000">MCD</text>
<text transform="translate(740.1,969.6) scale(0.8696,1)" x="0" y="0" font-size="13.80">Fatty Acyl-CoA</text>
<text transform="translate(858.5,958) scale(0.8957,1)" x="0" y="0" font-size="13.80" text-anchor="middle" fill="#000">CPT1</text>
<text transform="translate(905.9,826.4) scale(0.8696,1)" x="0" y="0" font-size="13.80">Mitochondrion</text>
<text transform="translate(905.9,868.8) scale(0.8696,1)" x="0" y="0" font-size="13.80">Malonyl-CoA</text>
<text transform="translate(917.9,952.3) scale(0.8696,1)" x="0" y="0" font-size="13.80">Increased</text>
<text transform="translate(917.9,963.2) scale(0.8696,1)" x="0" y="0" font-size="13.80">FFA oxidation</text>
<text transform="translate(617,1008) scale(0.8696,1)" x="0" y="0" font-size="13.80">+p</text>
<text transform="translate(772.4,1018) scale(0.8696,1)" x="0" y="0" font-size="13.80">+p</text>
<text transform="translate(654.5,277) scale(0.8957,1)" x="0" y="0" font-size="13.80" text-anchor="middle" fill="#000">HNF4α</text>
<text transform="translate(740,260.8) scale(0.8696,1)" x="0" y="0" font-size="13.80">DNA</text>
<text transform="translate(819.5,266) scale(0.8957,1)" x="0" y="0" font-size="13.80" text-anchor="middle" fill="#000">G6Pase</text>
<text transform="translate(819.5,289) scale(0.8957,1)" x="0" y="0" font-size="13.80" text-anchor="middle" fill="#000">PEPCK</text>
<text transform="translate(678.5,307) scale(0.8957,1)" x="0" y="0" font-size="13.80" text-anchor="middle" fill="#000">CREB</text>
<text transform="translate(654.5,336) scale(0.8957,1)" x="0" y="0" font-size="13.80" text-anchor="middle" fill="#000">TORC2</text>
<text transform="translate(728,323) scale(0.8696,1)" x="0" y="0" font-size="13.80">DNA</text>
<text transform="translate(821.5,337) scale(0.8957,1)" x="0" y="0" font-size="13.80" text-anchor="middle" fill="#000">PGC-1α</text>
<text transform="translate(949.9,252.9) scale(0.8696,1)" x="0" y="0" font-size="13.80">Inhibited expression of</text>
<text transform="translate(949.9,263.8) scale(0.8696,1)" x="0" y="0" font-size="13.80">glucogenic genes</text>
<text transform="translate(974,333) scale(0.8696,1)" x="0" y="0" font-size="13.80" textLength="140.30" lengthAdjust="spacingAndGlyphs">Attenuated gluconeogenic</text>
<text transform="translate(974,343.9) scale(0.8696,1)" x="0" y="0" font-size="13.80">programme</text>
<text transform="translate(668.5,387) scale(0.8957,1)" x="0" y="0" font-size="13.80" text-anchor="middle" fill="#000">HuR</text>
<text transform="translate(788.5,372) scale(0.8696,1)" x="0" y="0" font-size="13.80" text-anchor="middle" fill="#000" textLength="48.30" lengthAdjust="spacingAndGlyphs">CyclinD1</text>
<text transform="translate(788.5,402) scale(0.8696,1)" x="0" y="0" font-size="13.80" text-anchor="middle" fill="#000" textLength="50.60" lengthAdjust="spacingAndGlyphs">Cyclin A</text>
<text transform="translate(881.8,385.6) scale(0.8696,1)" x="0" y="0" font-size="13.80">Growth arrest</text>
<text transform="translate(920.0,410.5) scale(0.8696,1)" x="0" y="0" font-size="13.80" text-anchor="middle">Cell cycle</text>
<text transform="translate(654,411.8) scale(0.8696,1)" x="0" y="0" font-size="13.80">Nuclear to cytoplasm</text>
<text transform="translate(654,422) scale(0.8696,1)" x="0" y="0" font-size="13.80">translocation</text>
<text transform="translate(668.5,449) scale(0.8957,1)" x="0" y="0" font-size="13.80" text-anchor="middle" fill="#000">eEF2K</text>
<text transform="translate(763.5,449) scale(0.8957,1)" x="0" y="0" font-size="13.80" text-anchor="middle" fill="#000">eEF-2</text>
<text transform="translate(857.7,443.5) scale(0.8696,1)" x="0" y="0" font-size="13.80">Inhibited protein</text>
<text transform="translate(857.7,454.5) scale(0.8696,1)" x="0" y="0" font-size="13.80">synthesis</text>
<text transform="translate(657.5,488) scale(0.8957,1)" x="0" y="0" font-size="13.80" text-anchor="middle" fill="#000">FOXO</text>
<text transform="translate(657.5,576) scale(0.8957,1)" x="0" y="0" font-size="13.80" text-anchor="middle" fill="#000">FOXO</text>
<text transform="translate(684,474.4) scale(0.8696,1)" x="0" y="0" font-size="13.80">Deacetylated</text>
<text transform="translate(688.4,571) scale(0.8696,1)" x="0" y="0" font-size="13.80">Acetylated</text>
<text transform="translate(742.5,496) scale(0.8957,1)" x="0" y="0" font-size="13.80" text-anchor="middle" fill="#000">PGC-1α</text>
<text transform="translate(742.5,592) scale(0.8957,1)" x="0" y="0" font-size="13.80" text-anchor="middle" fill="#000">PGC-1α</text>
<text transform="translate(786.2,482) scale(0.8696,1)" x="0" y="0" font-size="13.80">DNA</text>
<text transform="translate(860.5,496) scale(0.8957,1)" x="0" y="0" font-size="13.80" text-anchor="middle" fill="#000">GLUT4</text>
<text transform="translate(983.7,511.6) scale(0.8696,1)" x="0" y="0" font-size="13.80">Activated mitochondrial</text>
<text transform="translate(983.7,522.5) scale(0.8696,1)" x="0" y="0" font-size="13.80">biogenesis</text>
<text transform="translate(190,671.2) scale(0.8696,1)" x="0" y="0" font-size="13.80">+p</text>
<text transform="translate(162.5,701) scale(0.8957,1)" x="0" y="0" font-size="13.80" text-anchor="middle" fill="#000">CFTR</text>
<text transform="translate(98,715.2) scale(0.8696,1)" x="0" y="0" font-size="13.80">Cl</text>
<text transform="translate(109.5,708) scale(0.8696,1)" x="0" y="0" font-size="11.50">-</text>
<text transform="translate(233.7,684) scale(0.8696,1)" x="0" y="0" font-size="13.80">Inhibited Cl-/fluid</text>
<text transform="translate(233.7,694.9) scale(0.8696,1)" x="0" y="0" font-size="13.80">secretion</text>
<text transform="translate(377.9,644.6) scale(0.8696,1)" x="0" y="0" font-size="13.80">+p</text>
<text transform="translate(383.5,673) scale(0.8696,1)" x="0" y="0" font-size="13.80" text-anchor="middle" fill="#000" textLength="50.60" lengthAdjust="spacingAndGlyphs">TBC1D1</text>
<text transform="translate(347.5,728) scale(0.8957,1)" x="0" y="0" font-size="13.80" text-anchor="middle" fill="#000">Rab</text>
<text transform="translate(290.5,767) scale(0.8957,1)" x="0" y="0" font-size="13.80" text-anchor="middle" fill="#000">GLUT4</text>
<text transform="translate(203.8,831.5) scale(0.8696,1)" x="0" y="0" font-size="13.80" textLength="101.20" lengthAdjust="spacingAndGlyphs">Stimulated glucose</text>
<text transform="translate(203.8,842.4) scale(0.8696,1)" x="0" y="0" font-size="13.80">uptake</text>
<text transform="translate(454.5,669) scale(0.8957,1)" x="0" y="0" font-size="13.80" text-anchor="middle" fill="#000">PP2A</text>
<text transform="translate(162.5,864) scale(0.8957,1)" x="0" y="0" font-size="13.80" text-anchor="middle" fill="#000">GLUT4</text>
<text transform="translate(71.8,873.4) scale(0.8696,1)" x="0" y="0" font-size="13.80">Glucose</text>
<text transform="translate(162.5,954) scale(0.8957,1)" x="0" y="0" font-size="13.80" text-anchor="middle" fill="#000">CD36</text>
<text transform="translate(83.7,966.2) scale(0.8696,1)" x="0" y="0" font-size="13.80">FA</text>
<text transform="translate(92.5,1005) scale(0.8957,1)" x="0" y="0" font-size="13.80" text-anchor="middle" fill="#000">IGF1</text>
<text transform="translate(162.5,1005) scale(0.8957,1)" x="0" y="0" font-size="13.80" text-anchor="middle" fill="#000">IGF1R</text>
<text transform="translate(92.5,1049) scale(0.8957,1)" x="0" y="0" font-size="13.80" text-anchor="middle" fill="#000">INS</text>
<text transform="translate(162.5,1049) scale(0.8957,1)" x="0" y="0" font-size="13.80" text-anchor="middle" fill="#000">INSR</text>
<text transform="translate(249.5,1049) scale(0.8957,1)" x="0" y="0" font-size="13.80" text-anchor="middle" fill="#000">IRS</text>
<text transform="translate(329.5,1049) scale(0.8957,1)" x="0" y="0" font-size="13.80" text-anchor="middle" fill="#000">PI3K</text>
<text transform="translate(384,1062.5) scale(0.8696,1)" x="0" y="0" font-size="13.80">PIP</text>
<text transform="translate(402.5,1064) scale(0.8696,1)" x="0" y="0" font-size="10.35">3</text>
<text transform="translate(455.5,1049) scale(0.8696,1)" x="0" y="0" font-size="13.80" text-anchor="middle" fill="#000" textLength="49.45" lengthAdjust="spacingAndGlyphs">PDK1/2</text>
<text transform="translate(496.4,1034) scale(0.8696,1)" x="0" y="0" font-size="13.80">+p</text>
<text transform="translate(541.5,1049) scale(0.8957,1)" x="0" y="0" font-size="13.80" text-anchor="middle" fill="#000">Akt</text>
<text transform="translate(283.5,1003.5) scale(0.8696,1)" x="0" y="0" font-size="13.80" text-anchor="middle">Insulin signaling</text>
<text transform="translate(283.5,1014.5) scale(0.8696,1)" x="0" y="0" font-size="13.80" text-anchor="middle">pathway</text>
<text transform="translate(405.0,1004.8) scale(0.8696,1)" x="0" y="0" font-size="13.80" text-anchor="middle">PI3K-Akt signaling</text>
<text transform="translate(405.0,1016.2) scale(0.8696,1)" x="0" y="0" font-size="13.80" text-anchor="middle">pathway</text>
<text transform="translate(622.5,1040) scale(0.8957,1)" x="0" y="0" font-size="13.80" text-anchor="middle" fill="#000">TSC2</text>
<text transform="translate(622.5,1057) scale(0.8957,1)" x="0" y="0" font-size="13.80" text-anchor="middle" fill="#000">TSC1</text>
<text transform="translate(711.5,1049) scale(0.8957,1)" x="0" y="0" font-size="13.80" text-anchor="middle" fill="#000">Rheb</text>
<text transform="translate(805.5,1049) scale(0.8696,1)" x="0" y="0" font-size="13.80" text-anchor="middle" fill="#000" textLength="50.60" lengthAdjust="spacingAndGlyphs">mTORC1</text>
<text transform="translate(732.5,1075.1) scale(0.8696,1)" x="0" y="0" font-size="13.80" text-anchor="middle">mTOR signaling</text>
<text transform="translate(732.5,1086.6) scale(0.8696,1)" x="0" y="0" font-size="13.80" text-anchor="middle">pathway</text>
<text transform="translate(888.5,1012) scale(0.8957,1)" x="0" y="0" font-size="13.80" text-anchor="middle" fill="#000">S6K</text>
<text transform="translate(888.5,1037) scale(0.8957,1)" x="0" y="0" font-size="13.80" text-anchor="middle" fill="#000">4EBP1</text>
<text transform="translate(888.5,1062) scale(0.8957,1)" x="0" y="0" font-size="13.80" text-anchor="middle" fill="#000">PPARγ</text>
<text transform="translate(888.5,1087) scale(0.8957,1)" x="0" y="0" font-size="13.80" text-anchor="middle" fill="#000">Ulk1</text>
<text transform="translate(987.9,1024.6) scale(0.8696,1)" x="0" y="0" font-size="13.80">Inhibited cell growth</text>
<text transform="translate(987.9,1035.1) scale(0.8696,1)" x="0" y="0" font-size="13.80">&amp; protein synthesis</text>
<text transform="translate(953.6,1080) scale(0.8696,1)" x="0" y="0" font-size="13.80">Increased</text>
<text transform="translate(953.6,1090.2) scale(0.8696,1)" x="0" y="0" font-size="13.80">autophagy</text>
<text transform="translate(1072.0,1079.4) scale(0.8696,1)" x="0" y="0" font-size="13.80" text-anchor="middle">Regulation of</text>
<text transform="translate(1072.0,1090.2) scale(0.8696,1)" x="0" y="0" font-size="13.80" text-anchor="middle">autophagy</text>
<text transform="translate(15.6,1124) scale(0.8696,1)" x="0" y="0" font-size="13.80">04152 3/6/17</text>
<text transform="translate(15.6,1135) scale(0.8696,1)" x="0" y="0" font-size="13.80">(c) Kanehisa Laboratories</text>
</svg>
</body></html>
